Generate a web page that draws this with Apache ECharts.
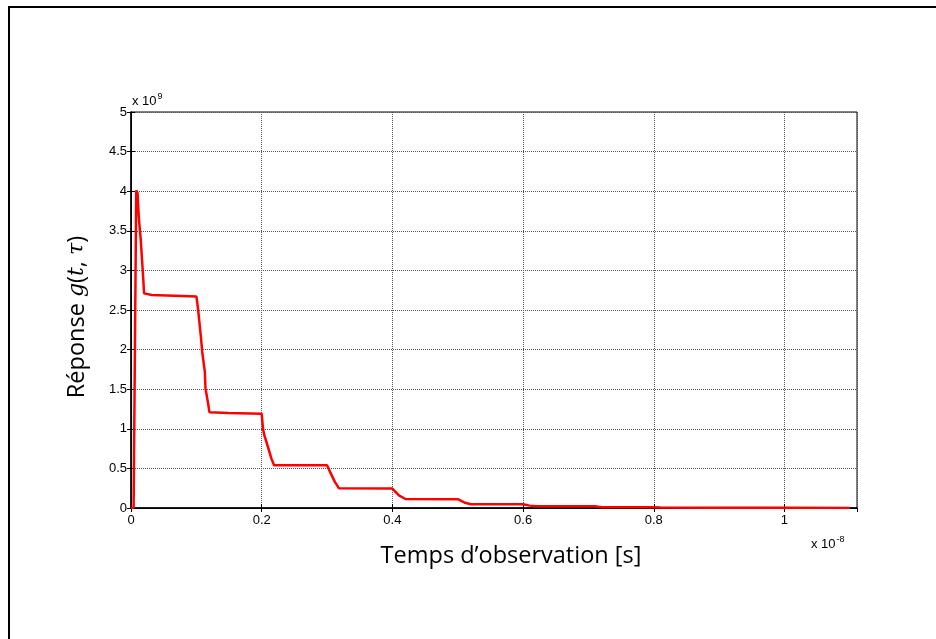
<!DOCTYPE html>
<html>
<head>
<meta charset="utf-8">
<script src="https://cdn.jsdelivr.net/npm/echarts@6/dist/echarts.min.js"></script>
<style>html,body{margin:0;padding:0;background:#fff}#c{width:936px;height:639px}</style>
</head>
<body>
<div id="c"></div>
<script>
// time in units of 1e-8 s
const timeValues = [0, 0.004, 0.008, 0.010, 0.012, 0.015, 0.017, 0.019, 0.020, 0.032, 0.100, 0.101, 0.103, 0.107, 0.109, 0.113, 0.114, 0.118, 0.120, 0.149, 0.150, 0.200, 0.202, 0.204, 0.210, 0.215, 0.219, 0.300, 0.305, 0.312, 0.318, 0.400, 0.410, 0.420, 0.500, 0.510, 0.520, 0.600, 0.610, 0.620, 0.710, 0.720, 0.800, 0.810, 0.900, 1.000, 1.100];
// response in units of 1e9
const responseValues = [0, 0, 4.01, 3.98, 3.66, 3.38, 3.12, 2.86, 2.71, 2.69, 2.67, 2.62, 2.48, 2.16, 1.97, 1.72, 1.51, 1.32, 1.21, 1.20, 1.19, 1.19, 1.0, 0.92, 0.76, 0.62, 0.54, 0.54, 0.45, 0.33, 0.25, 0.245, 0.16, 0.114, 0.112, 0.07, 0.048, 0.047, 0.03, 0.022, 0.021, 0.01, 0.009, 0.005, 0.004, 0.002, 0.001];
const xTicks = [0, 0.2, 0.4, 0.6, 0.8, 1];
const yTicks = [0, 0.5, 1, 1.5, 2, 2.5, 3, 3.5, 4, 4.5, 5];

const seriesData = timeValues.map((t, i) => [t, responseValues[i]]);
const labelFont = 'Liberation Sans, Arial, sans-serif';

const chart = echarts.init(document.getElementById('c'));
chart.setOption({
  animation: false,
  backgroundColor: '#fff',
  grid: { left: 131, top: 112, right: 79, bottom: 131, show: true, borderColor: '#000', borderWidth: 1 },
  xAxis: [{
    type: 'value', min: 0, max: 1.111, interval: 0.2,
    axisLine: { show: true, lineStyle: { color: '#000', width: 1.5 } },
    axisTick: { show: true, inside: true, length: 4, lineStyle: { color: '#000' } },
    axisLabel: {
      color: '#000', fontFamily: labelFont, fontSize: 13, margin: 6, showMaxLabel: false,
      formatter: v => {
        const r = Math.round(v * 10) / 10;
        return (Math.abs(v - r) < 1e-6 && xTicks.indexOf(r) >= 0) ? String(r) : '';
      }
    },
    splitLine: { show: true, lineStyle: { color: '#555', type: 'dotted', width: 1 } },
    name: 'Temps d\u2019observation [s]', nameLocation: 'middle', nameGap: 36,
    nameTextStyle: { color: '#000', fontFamily: 'Open Sans, Noto Sans, sans-serif', fontSize: 23.5, padding: [0, 0, 0, 34] }
  }, {
    type: 'value', position: 'top', min: 0, max: 1.111, interval: 0.2,
    axisLine: { show: true, lineStyle: { color: '#000' } },
    axisTick: { show: true, inside: true, length: 4, lineStyle: { color: '#000' } },
    axisLabel: { show: false }, splitLine: { show: false }
  }],
  yAxis: [{
    type: 'value', min: 0, max: 5, interval: 0.5,
    axisLine: { show: true, lineStyle: { color: '#000', width: 1.5 } },
    axisTick: { show: true, inside: true, length: 4, lineStyle: { color: '#000' } },
    axisLabel: { color: '#000', fontFamily: labelFont, fontSize: 13, margin: 4, formatter: v => String(v) },
    splitLine: { show: true, lineStyle: { color: '#555', type: 'dotted', width: 1 } },
    name: '{n|Réponse }{m|g}{n|(}{m|t}{n|, }{m|τ}{n|)}', nameLocation: 'middle', nameGap: 42, nameRotate: 90,
    nameTextStyle: {
      padding: [0, 14, 0, 0],
      rich: {
        n: { fontFamily: 'Open Sans, Noto Sans, sans-serif', fontSize: 23.5, color: '#000' },
        m: { fontFamily: 'DejaVu Serif, Liberation Serif, serif', fontStyle: 'italic', fontSize: 22, color: '#000' }
      }
    }
  }, {
    type: 'value', position: 'right', min: 0, max: 5, interval: 0.5,
    axisLine: { show: true, lineStyle: { color: '#000' } },
    axisTick: { show: true, inside: true, length: 4, lineStyle: { color: '#000' } },
    axisLabel: { show: false }, splitLine: { show: false }
  }],
  series: [{
    type: 'line', data: seriesData, xAxisIndex: 0, yAxisIndex: 0,
    showSymbol: false, symbol: 'none',
    lineStyle: { color: '#ff0000', width: 2.5 }, z: 5
  }],
  graphic: [
    { type: 'rect', shape: { x: 9, y: 7, width: 940, height: 640 }, style: { fill: 'none', stroke: '#000', lineWidth: 2 }, silent: true },
    { type: 'text', left: 132, top: 92, style: { text: '{a|x 10}{b|9}', rich: { a: { fontFamily: labelFont, fontSize: 13, fill: '#000' }, b: { fontFamily: labelFont, fontSize: 9, fill: '#000', padding: [0, 0, 9, 1] } } } },
    { type: 'text', left: 811, top: 535, style: { text: '{a|x 10}{b|-8}', rich: { a: { fontFamily: labelFont, fontSize: 13, fill: '#000' }, b: { fontFamily: labelFont, fontSize: 9, fill: '#000', padding: [0, 0, 9, 1] } } } }
  ]
});
</script>
</body>
</html>
